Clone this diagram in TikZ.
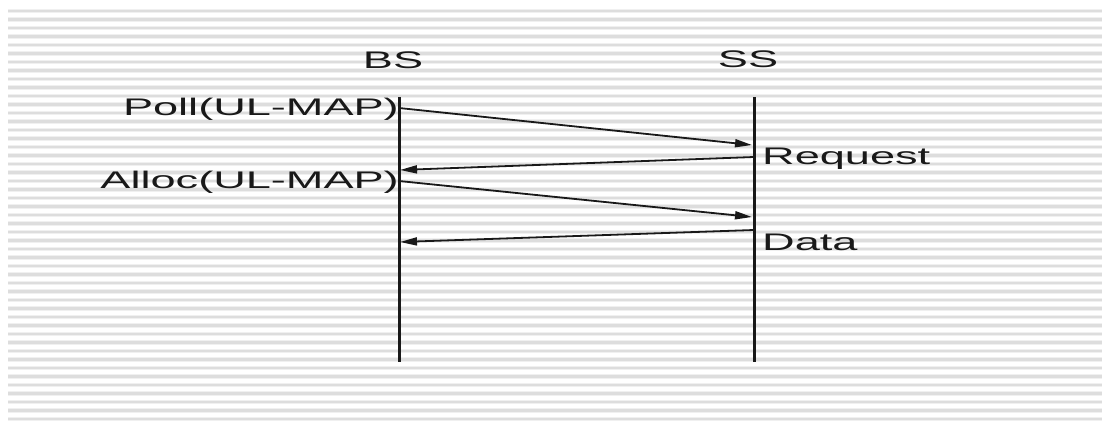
\documentclass[tikz,border=0pt]{standalone}
\usepackage{fontspec}
\setmainfont{Liberation Sans}
\usetikzlibrary{arrows.meta}
\tikzset{
  bandsoft/.style={draw=gray!12, line width=4.2pt},
  bandcore/.style={draw=gray!27, line width=2.2pt},
  lifeline/.style={draw=black!90, line width=3pt},
  msg/.style={draw=black!90, line width=1.8pt, -{Triangle[length=17pt,width=8pt]}},
  lbl/.style={inner sep=0pt, font=\fontsize{24}{28}\selectfont, text=black!90}
}
\newcommand{\wide}[1]{\scalebox{1.88}[1]{#1}}
\begin{document}
\begin{tikzpicture}[x=1pt, y=-1pt]
  \useasboundingbox (0,0) rectangle (1102,423);
  \fill[white] (0,0) rectangle (1102,423);
  % ruled paper background
  \foreach \i in {0,...,48} {
    \draw[bandsoft] (8,{11+8.5*\i}) -- (1102,{11+8.5*\i});
    \draw[bandcore] (8,{11+8.5*\i}) -- (1102,{11+8.5*\i});
  }
  % lifelines
  \coordinate (bsTop) at (399,97);
  \coordinate (bsBot) at (399,362);
  \coordinate (ssTop) at (754,97);
  \coordinate (ssBot) at (754,362);
  \draw[lifeline] (bsTop) -- (bsBot);
  \draw[lifeline] (ssTop) -- (ssBot);
  % entity names
  \node[lbl, anchor=base] (bs) at (393,68.5) {\wide{BS}};
  \node[lbl, anchor=base] (ss) at (748,67.5) {\wide{SS}};
  % message end points on the lifelines
  \coordinate (m1a) at (399,108);
  \coordinate (m1b) at (752,145);
  \coordinate (m2a) at (754,157);
  \coordinate (m2b) at (400,170);
  \coordinate (m3a) at (399,181);
  \coordinate (m3b) at (752,217);
  \coordinate (m4a) at (754,230);
  \coordinate (m4b) at (400,242);
  \draw[msg] (m1a) -- (m1b);
  \draw[msg] (m2a) -- (m2b);
  \draw[msg] (m3a) -- (m3b);
  \draw[msg] (m4a) -- (m4b);
  % message labels
  \node[lbl, anchor=base east] (poll) at (399,115.5) {\wide{Poll(UL-MAP)}};
  \node[lbl, anchor=base east] (alloc) at (399,188) {\wide{Alloc(UL-MAP)}};
  \node[lbl, anchor=base west] (req) at (762,164) {\wide{Request}};
  \node[lbl, anchor=base west] (data) at (762,250) {\wide{Data}};
\end{tikzpicture}
\end{document}
